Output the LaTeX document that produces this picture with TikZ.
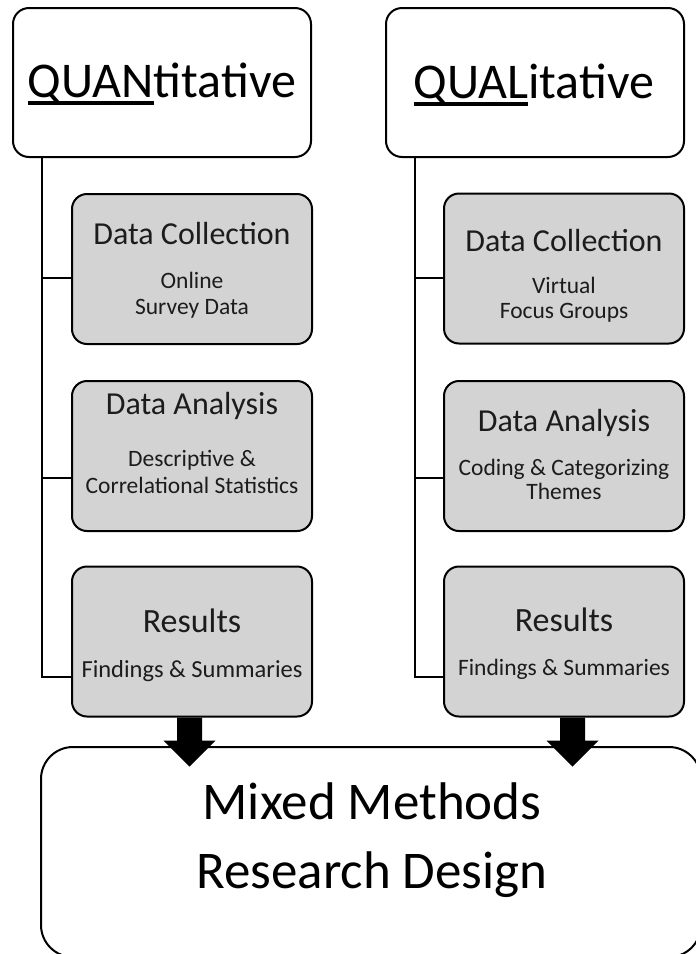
\documentclass[tikz,border=0pt]{standalone}
\usepackage{fontspec}
\setmainfont{Carlito}
\usetikzlibrary{calc}

% underlined word with a rule that follows the word width
\newcommand\ulword[1]{\setbox0\hbox{#1}\rlap{\rule[-0.15em]{\wd0}{0.065em}}\box0}

\definecolor{boxgray}{RGB}{211,211,211}
\definecolor{inkdark}{RGB}{28,28,28}

\tikzset{
  headbox/.style={draw=black, line width=2pt, fill=white, rounded corners=16pt,
    minimum width=298pt, minimum height=149pt, inner sep=0pt},
  stagebox/.style={draw=black, line width=2pt, fill=boxgray, rounded corners=15pt,
    minimum width=240pt, minimum height=150pt, inner sep=0pt},
  mixbox/.style={draw=black, line width=2pt, fill=white, rounded corners=32pt,
    minimum width=660pt, minimum height=210pt, inner sep=0pt},
  conn/.style={draw=black, line width=2pt},
  bigtitle/.style={anchor=base, inner sep=0pt, font=\fontsize{50}{60}\selectfont},
  mixtitle/.style={anchor=base, inner sep=0pt, font=\fontsize{53}{64}\selectfont},
  stagetitle/.style={anchor=base, inner sep=0pt, text=inkdark, font=\fontsize{32}{38}\selectfont},
  resulttitle/.style={anchor=base, inner sep=0pt, text=inkdark, font=\fontsize{34}{40}\selectfont},
  stagetext/.style={anchor=base, inner sep=0pt, text=inkdark, font=\fontsize{23.5}{28}\selectfont},
  blockarrow/.style={fill=black},
}

\begin{document}
\begin{tikzpicture}[x=1pt, y=-1pt]
\useasboundingbox (0,0) rectangle (696,954);

% header boxes
\node[headbox] (quant) at (162,82.5) {};
\node[headbox] (qual)  at (535,82.5) {};
\node[bigtitle] (quanttxt) at (162,97) {\ulword{QUAN}titative};
\node[bigtitle] (qualtxt)  at (534,98) {\ulword{QUAL}itative};

% stage boxes, quantitative strand
\node[stagebox] (dcl) at (192,269) {};
\node[stagebox] (dal) at (192,456) {};
\node[stagebox] (rsl) at (192,641.5) {};

% stage boxes, qualitative strand
\node[stagebox] (dcr) at (564,268.5) {};
\node[stagebox] (dar) at (564,456) {};
\node[stagebox] (rsr) at (564,641.5) {};

% spines and branches
\coordinate (lspine) at ([xshift=30pt]quant.south west);
\coordinate (rspine) at ([xshift=30pt]qual.south west);
\draw[conn] (lspine) |- ([yshift=-35.5pt]rsl.west);
\draw[conn] ([yshift=-9pt]dcl.west) -- ([yshift=-9pt]dcl.west -| lspine);
\draw[conn] ([yshift=-22pt]dal.west) -- ([yshift=-22pt]dal.west -| lspine);
\draw[conn] (rspine) |- ([yshift=-35.5pt]rsr.west);
\draw[conn] ([yshift=-9.5pt]dcr.west) -- ([yshift=-9.5pt]dcr.west -| rspine);
\draw[conn] ([yshift=-22pt]dar.west) -- ([yshift=-22pt]dar.west -| rspine);

% stage texts, quantitative
\node[stagetitle] (dclt) at (192,244) {Data Collection};
\node[stagetext] (dcla) at (192,288) {Online};
\node[stagetext] (dclb) at (192,314) {Survey Data};
\node[stagetitle] (dalt) at (192,414) {Data Analysis};
\node[stagetext] (dala) at (192,466) {Descriptive \&};
\node[stagetext] (dalb) at (192,493) {Correlational Statistics};
\node[resulttitle] (rslt) at (192,632) {Results};
\node[stagetext, font=\fontsize{24.5}{29}\selectfont] (rsla) at (192,677) {Findings \& Summaries};

% stage texts, qualitative
\node[stagetitle] (dcrt) at (564,251) {Data Collection};
\node[stagetext] (dcra) at (564,293) {Virtual};
\node[stagetext] (dcrb) at (564,318) {Focus Groups};
\node[stagetitle] (dart) at (564,431) {Data Analysis};
\node[stagetext] (dara) at (564,475) {Coding \& Categorizing};
\node[stagetext] (darb) at (564,499) {Themes};
\node[resulttitle] (rsrt) at (564,631) {Results};
\node[stagetext] (rsra) at (564,675) {Findings \& Summaries};

% combined design box, running past the lower and right edges
\node[mixbox] (mix) at (371,852) {};
\node[mixtitle] (mixa) at (372,819) {Mixed Methods};
\node[mixtitle] (mixb) at (372,888) {Research Design};

% block arrows into the combined box
\fill[blockarrow] ([xshift=-2.5pt]rsl.south) ++(-12.5,0) -- ++(0,23) -- ++(-13.5,0)
  -- ++(26,26) -- ++(26,-26) -- ++(-13.5,0) -- ++(0,-23) -- cycle;
\fill[blockarrow] ([xshift=8.5pt]rsr.south) ++(-12.5,0) -- ++(0,23) -- ++(-13.5,0)
  -- ++(26,26) -- ++(26,-26) -- ++(-13.5,0) -- ++(0,-23) -- cycle;
\end{tikzpicture}
\end{document}
